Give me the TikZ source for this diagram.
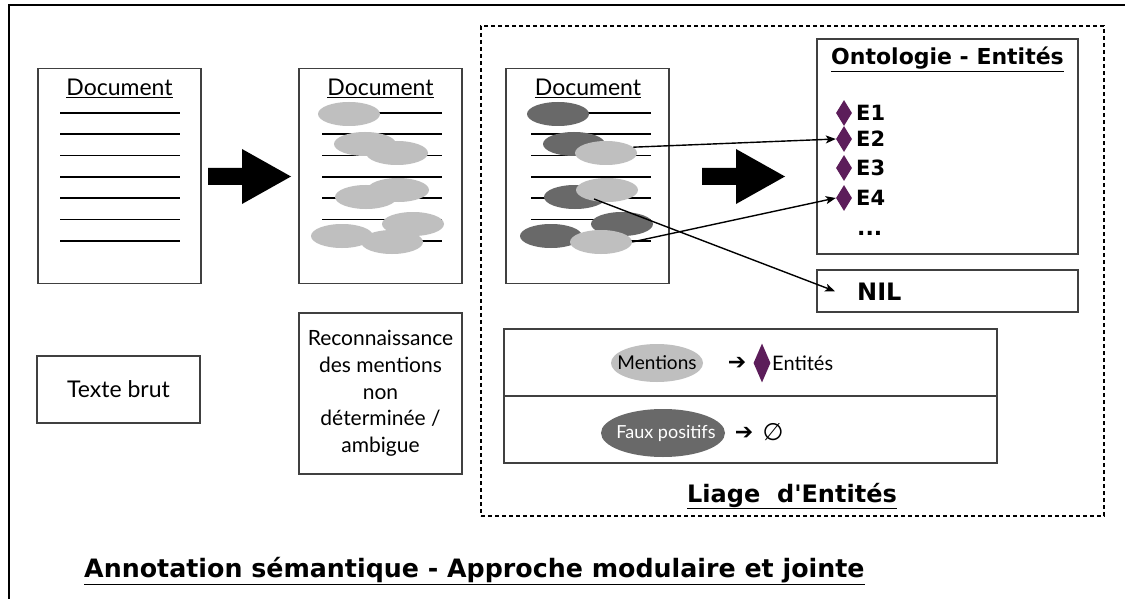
\documentclass[tikz,border=0pt]{standalone}
\usepackage{fontspec}
\setmainfont{Lato}
\newfontfamily\symfont{DejaVu Sans}
\newfontfamily\headfont{DejaVu Sans}
\usetikzlibrary{shapes.geometric,arrows.meta,calc}

\definecolor{mentionlight}{RGB}{191,191,191}
\definecolor{mentiondark}{RGB}{105,105,105}
\definecolor{entitypurple}{RGB}{92,29,90}

\tikzset{
  outerframe/.style={line width=2pt},
  docbox/.style={draw=black!75, line width=1.2pt, minimum width=163pt, minimum height=215pt, inner sep=0pt},
  docline/.style={line width=1.8pt},
  doctitle/.style={font=\fontsize{23}{27}\selectfont, anchor=base, inner sep=0pt},
  mention/.style={ellipse, minimum width=62pt, minimum height=24pt, inner sep=0pt},
  entity/.style={diamond, fill=entitypurple, minimum width=16pt, minimum height=26pt, inner sep=0pt},
  link/.style={line width=1.4pt, -{Stealth[length=10pt,width=8pt,inset=2.5pt]}},
  infobox/.style={draw=black!75, line width=1.2pt, inner sep=0pt, align=center, font=\fontsize{21}{26.7}\selectfont},
  linkbox/.style={draw, line width=1.8pt, dash pattern=on 4pt off 3pt, minimum width=623pt, minimum height=490pt, inner sep=0pt},
  boldtext/.style={font=\headfont\bfseries\fontsize{22}{26}\selectfont, inner sep=0pt},
  legendtext/.style={font=\fontsize{19}{23}\selectfont, inner sep=0pt},
  legendsym/.style={font=\symfont\fontsize{22}{26}\selectfont, inner sep=0pt},
}

% big black process arrow
\newcommand{\bigarrowat}[1]{%
  \fill (#1,168) -- ++(34,0) -- ++(0,-19) -- ++(49,27.5) -- ++(-49,27.5) -- ++(0,-19) -- ++(-34,0) -- cycle;}

\begin{document}
\begin{tikzpicture}[x=1pt,y=-1pt]
\fill[white] (0,0) rectangle (1125,599);
\useasboundingbox (0,0) rectangle (1125,599);

\draw[outerframe] (9,620) -- (9,5) -- (1140,5);

% linking frame
\node[linkbox] (linking) at (792.5,271) {};

% documents
\node[docbox] (doc1) at (119.5,176) {};
\node[docbox] (doc2) at (380.5,176) {};
\node[docbox] (doc3) at (587.5,176) {};
\foreach \d/\tx in {doc1/119.5,doc2/380.5,doc3/588} {
  \node[doctitle] (\d title) at (\tx,96) {\underline{Document}};
}
\foreach \lx in {60,322,531} {
  \foreach \i in {0,...,6} {
    \draw[docline] (\lx,113+21.3*\i) -- ++(120,0);
  }
}

% mentions (doc2 all light, doc3 light = mention, dark = faux positif)
\foreach \n/\mx/\my/\sh in {a/349/114/mentiondark, b/365/144/mentiondark, c/397/153/mentionlight,
    e/366/197/mentiondark, d/398/190/mentionlight, f/413/224/mentiondark,
    g/342/236/mentiondark, h/392/242/mentionlight} {
  \node[mention, fill=mentionlight] (m2\n) at (\mx,\my) {};
  \node[mention, fill=\sh] (m3\n) at (\mx+209,\my) {};
}

\foreach \ax in {208,702} {\bigarrowat{\ax}}

% ontology
\node[docbox, minimum width=261pt, minimum height=215pt] (onto) at (947.5,146.5) {};
\node[boldtext, anchor=base] (ontotitle) at (947.5,65) {\underline{Ontologie - Entités}};
\foreach \i/\ey in {1/113,2/139,3/168,4/198} {
  \node[entity] (ent\i) at (844,\ey) {};
  \node[boldtext, font=\headfont\bfseries\fontsize{21}{25}\selectfont, anchor=west] (lab\i) at (856,\ey) {E\i};
}
\node[boldtext, anchor=base west] (dots) at (857,235) {...};

\node[docbox, minimum width=261pt, minimum height=42pt] (nilbox) at (947.5,291) {};
\node[boldtext, font=\headfont\bfseries\fontsize{24}{28}\selectfont, anchor=base west] (nil) at (857,300) {NIL};

% legend rows
\node[docbox, minimum width=493pt, minimum height=67pt] (rowment) at (750.5,362.5) {};
\node[docbox, minimum width=493pt, minimum height=67pt] (rowfaux) at (750.5,429.5) {};
\node[mention, fill=mentionlight, minimum width=92pt, minimum height=38pt] (legment) at (657,363) {};
\node[legendtext] (legmenttxt) at (legment) {Mentions};
\node[legendsym] (legarr1) at (737,363) {➔};
\node[entity, minimum width=17pt, minimum height=39pt] (legent) at (762,363) {};
\node[legendtext, font=\fontsize{20}{24}\selectfont, anchor=west] (legenttxt) at (772,363) {Entités};
\node[mention, fill=mentiondark, minimum width=124pt, minimum height=48pt] (legfaux) at (663,433) {};
\node[legendtext, text=white, font=\fontsize{18}{22}\selectfont] (legfauxtxt) at (666,433) {Faux positifs};
\node[legendsym] (legarr2) at (744,433) {➔};
\node[legendsym, font=\symfont\fontsize{24}{28}\selectfont] (legnone) at (773,432) {∅};

\node[boldtext, font=\headfont\bfseries\fontsize{24}{28}\selectfont, anchor=base] (liage) at (792,502) {\underline{Liage~~d\textquotesingle Entités}};

% step descriptions
\node[infobox, font=\fontsize{23}{27}\selectfont, minimum width=163pt, minimum height=67pt] (brut) at (118.5,389.5) {Texte brut};
\node[infobox, minimum width=163pt, minimum height=161pt] (reco) at (380.5,393.5)
  {Reconnaissance\\des mentions\\non\\déterminée /\\ambigue};

\node[boldtext, font=\headfont\bfseries\fontsize{25.3}{29}\selectfont, anchor=base west] (maintitle) at (84,577) {\underline{Annotation sémantique - Approche modulaire et jointe}};

% links
\draw[link] (m3c.12) -- (ent2.west);
\draw[link] (m3h.east) -- (ent4.west);
\draw[link] ($(m3d)+(-13,9)$) -- ([xshift=-22pt]nil.west);
\end{tikzpicture}
\end{document}
